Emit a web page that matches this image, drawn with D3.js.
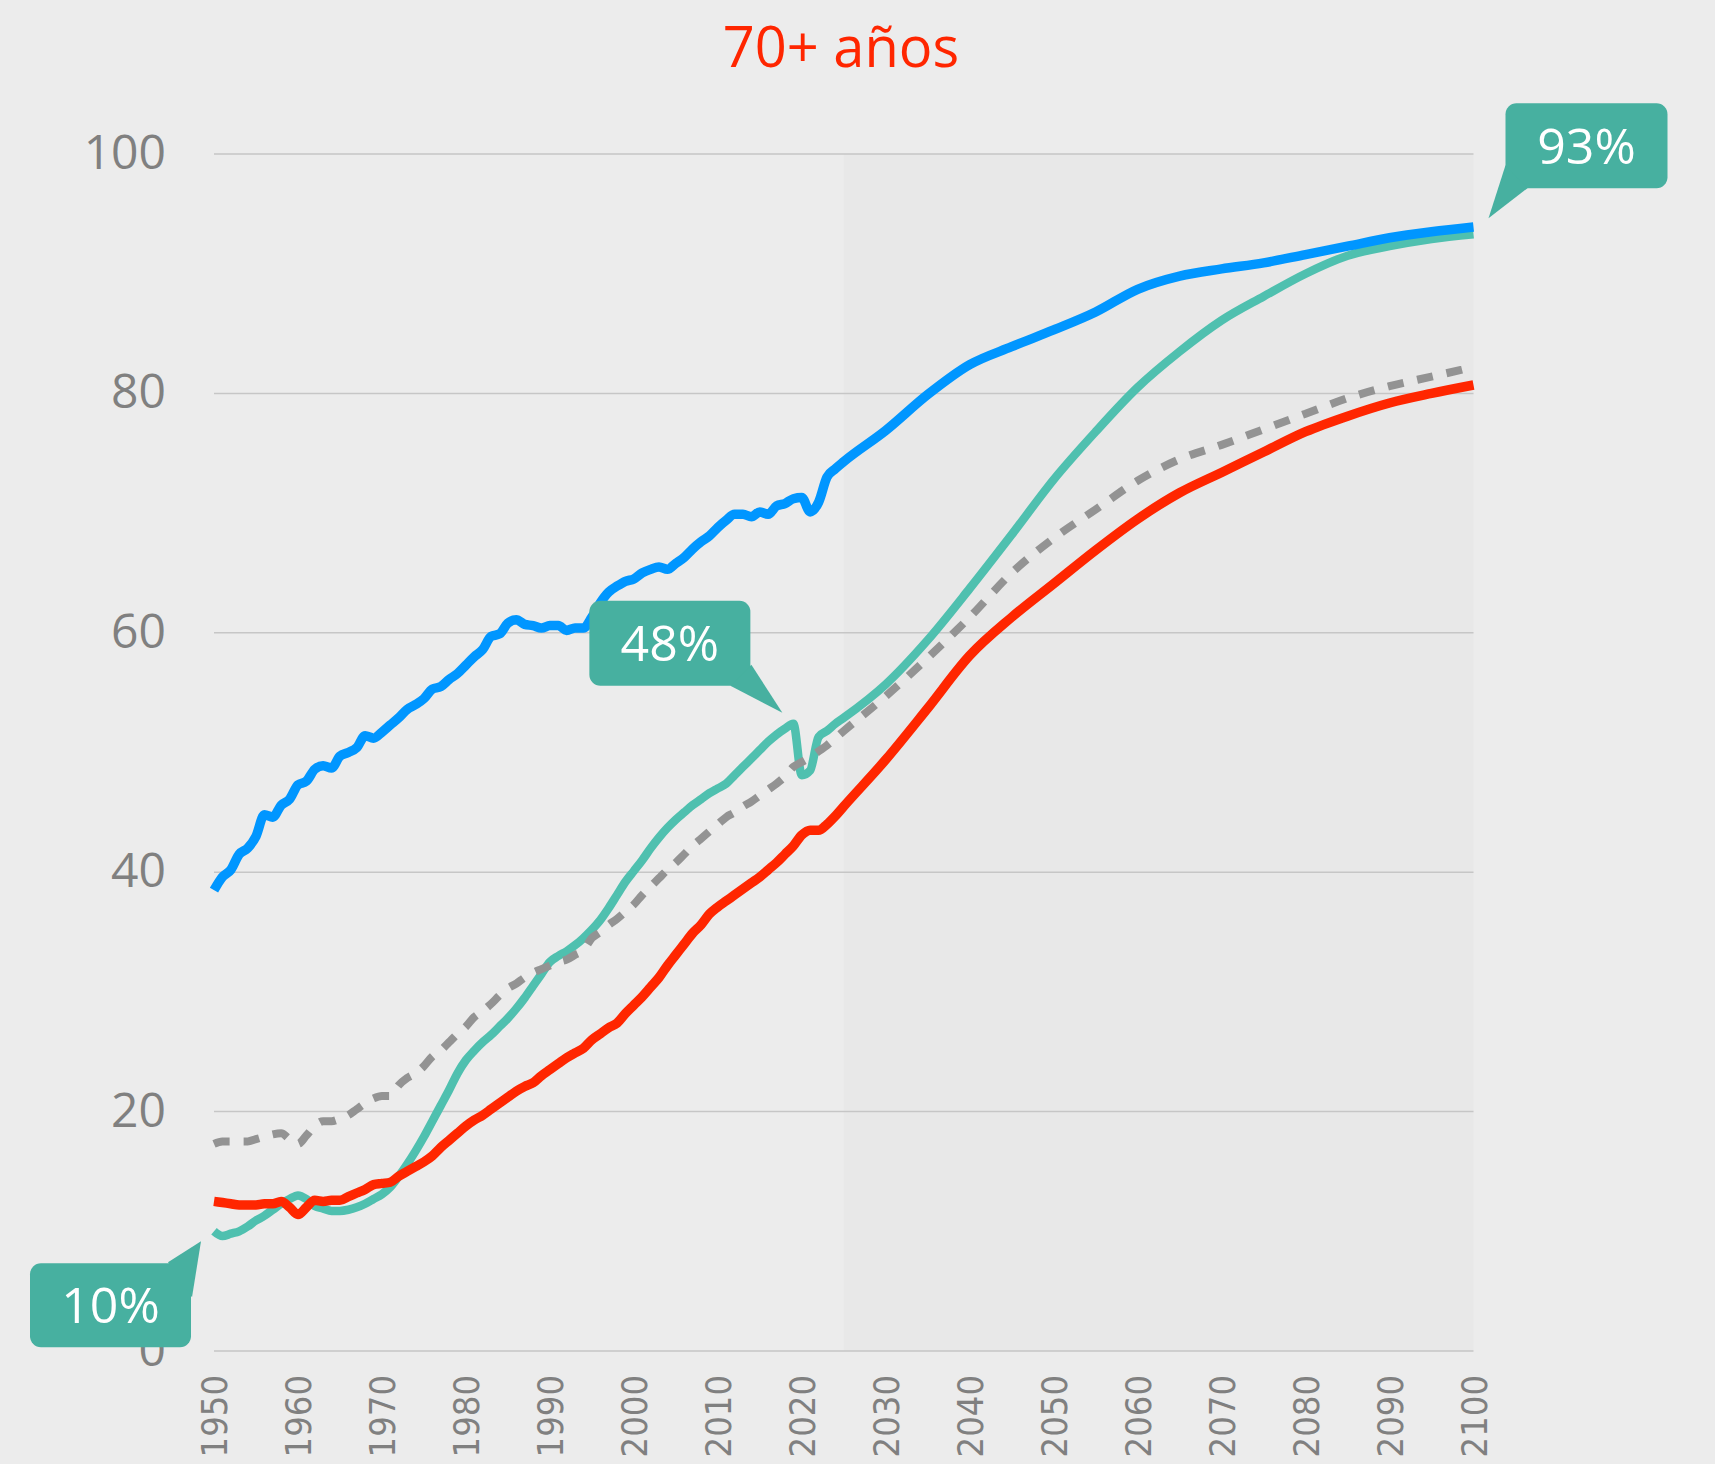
<!DOCTYPE html>
<html>
<head>
<meta charset="utf-8">
<script src="https://cdn.jsdelivr.net/npm/d3@7"></script>
<style>
    body { margin: 0; background: #ececec; }
    #chart { width: 1715px; height: 1464px; }
    .tick-y text { font-family: "Open Sans", sans-serif; font-size: 48px; fill: #808080; }
    .tick-x text { font-family: "DejaVu Sans Condensed", "DejaVu Sans", sans-serif; font-size: 36px; fill: #808080; }
</style>
</head>
<body>
<div id="chart"></div>
<script>
// years: annual until 2025, then every 5 years
let years = [1950,1951,1952,1953,1954,1955,1956,1957,1958,1959,
    1960,1961,1962,1963,1964,1965,1966,1967,1968,1969,
    1970,1971,1972,1973,1974,1975,1976,1977,1978,1979,
    1980,1981,1982,1983,1984,1985,1986,1987,1988,1989,
    1990,1991,1992,1993,1994,1995,1996,1997,1998,1999,
    2000,2001,2002,2003,2004,2005,2006,2007,2008,2009,
    2010,2011,2012,2013,2014,2015,2016,2017,2018,2019,
    2020,2021,2022,2023,2024,2025,
    2030,2035,2040,2045,2050,2055,2060,2065,2070,2075,2080,2085,2090,2095,2100];

let blueValues = [38.5,39.6,40.2,41.5,42.0,43.0,44.8,44.6,45.6,46.1,
    47.3,47.6,48.6,48.9,48.7,49.7,50.0,50.4,51.4,51.2,
    51.7,52.3,52.9,53.6,54.0,54.5,55.3,55.5,56.1,56.6,
    57.3,58.0,58.6,59.7,59.9,60.8,61.1,60.7,60.6,60.4,
    60.6,60.6,60.2,60.4,60.4,61.3,62.5,63.4,63.9,64.3,
    64.5,65.0,65.3,65.5,65.3,65.8,66.3,67.0,67.6,68.1,
    68.8,69.4,69.9,69.9,69.7,70.1,69.9,70.6,70.8,71.2,
    71.3,70.1,70.9,73.0,73.7,74.3,
    76.9,79.9,82.4,83.9,85.3,86.8,88.7,89.8,90.4,90.9,91.6,92.3,93.0,93.5,93.9];

let tealValues = [10.0,9.6,9.8,10.0,10.4,10.9,11.3,11.8,12.3,12.7,
    13.0,12.7,12.1,11.9,11.7,11.7,11.8,12.0,12.3,12.7,
    13.1,13.7,14.6,15.6,16.7,17.9,19.2,20.5,21.8,23.2,
    24.3,25.1,25.8,26.4,27.1,27.8,28.6,29.5,30.5,31.5,
    32.5,33.0,33.4,33.9,34.5,35.2,36.0,37.0,38.1,39.2,
    40.1,41.0,42.0,42.9,43.7,44.4,45.0,45.6,46.1,46.6,
    47.0,47.4,48.1,48.8,49.5,50.2,50.9,51.5,52.0,52.4,
    48.1,48.5,51.3,51.8,52.4,52.9,
    55.7,59.4,63.7,68.2,72.8,76.8,80.5,83.5,86.1,88.1,90.0,91.5,92.3,92.9,93.3];

let redValues = [12.5,12.4,12.3,12.2,12.2,12.2,12.3,12.3,12.5,12.0,
    11.4,12.0,12.6,12.5,12.6,12.6,12.9,13.2,13.5,13.9,
    14.0,14.1,14.6,15.0,15.4,15.8,16.3,17.0,17.6,18.2,
    18.8,19.3,19.7,20.2,20.7,21.2,21.7,22.1,22.4,23.0,
    23.5,24.0,24.5,24.9,25.3,26.0,26.5,27.0,27.4,28.2,
    28.9,29.6,30.4,31.2,32.2,33.1,34.0,34.9,35.6,36.5,
    37.1,37.6,38.1,38.6,39.1,39.6,40.2,40.8,41.5,42.2,
    43.1,43.5,43.5,44.0,44.7,45.5,
    49.4,53.7,58.1,61.3,64.1,66.9,69.5,71.7,73.4,75.1,76.8,78.1,79.2,80.0,80.7];

let grayValues = [17.3,17.5,17.5,17.5,17.5,17.7,17.9,18.1,18.2,17.7,
    17.3,18.0,18.8,19.2,19.2,19.4,19.7,20.2,20.7,21.1,
    21.3,21.3,22.2,22.8,23.2,23.8,24.6,25.1,25.8,26.5,
    27.1,27.9,28.4,29.0,29.7,30.3,30.7,31.2,31.6,31.9,
    32.2,32.5,32.7,33.1,33.5,34.5,35.0,35.6,36.1,36.7,
    37.3,38.1,38.8,39.5,40.2,40.8,41.5,42.2,42.8,43.4,
    44.0,44.6,45.0,45.5,45.9,46.4,46.9,47.4,48.0,48.8,
    49.2,49.6,50.1,50.6,51.2,51.8,
    54.7,57.9,61.3,65.0,67.9,70.3,72.7,74.5,75.7,77.0,78.3,79.6,80.6,81.4,82.2];

let yTicks = [0, 20, 40, 60, 80, 100];
let xTicks = [1950,1960,1970,1980,1990,2000,2010,2020,2030,2040,2050,2060,2070,2080,2090,2100];

let projectionStart = 2025;

// callouts: label, year / value they point at
let calloutLabels = ["10%", "48%", "93%"];
let calloutYears = [1950, 2019, 2100];
let calloutValues = [10.0, 52.4, 93.3];

class LineChart {
    constructor(parentElement) {
        this.parentElement = parentElement;
        this.initVis();
    }

    initVis() {
        let vis = this;

        vis.width = 1715;
        vis.height = 1464;

        vis.svg = d3.select("#" + vis.parentElement).append("svg")
            .attr("width", vis.width)
            .attr("height", vis.height);

        vis.svg.append("rect")
            .attr("width", vis.width)
            .attr("height", vis.height)
            .attr("fill", "#ececec");

        vis.x = d3.scaleLinear().domain([1950, 2100]).range([214, 1473.5]);
        vis.y = d3.scaleLinear().domain([0, 100]).range([1351, 154]);

        vis.wrangleData();
    }

    wrangleData() {
        let vis = this;

        vis.series = [
            {name: "teal", values: tealValues, color: "#4fc0af", width: 8.5, dash: null},
            {name: "red", values: redValues, color: "#ff2600", width: 9.5, dash: null},
            {name: "gray", values: grayValues, color: "#939393", width: 8, dash: "16,14"},
            {name: "blue", values: blueValues, color: "#0096ff", width: 9.5, dash: null}
        ];
        vis.series.forEach(s => {
            s.points = years.map((yr, i) => ({year: yr, value: s.values[i]}));
        });

        vis.updateVis();
    }

    updateVis() {
        let vis = this;

        // shaded projection area
        vis.svg.append("rect")
            .attr("x", vis.x(projectionStart))
            .attr("y", vis.y(100))
            .attr("width", vis.x(2100) - vis.x(projectionStart))
            .attr("height", vis.y(0) - vis.y(100))
            .attr("fill", "#e8e8e8");

        // gridlines
        vis.svg.selectAll(".grid")
            .data(yTicks)
            .enter()
            .append("line")
            .attr("class", "grid")
            .attr("x1", vis.x(1950))
            .attr("x2", vis.x(2100))
            .attr("y1", d => vis.y(d))
            .attr("y2", d => vis.y(d))
            .attr("stroke", "#c6c6c6")
            .attr("stroke-width", 1.5);

        // y axis
        vis.svg.append("g")
            .attr("class", "tick-y")
            .attr("transform", `translate(${vis.x(1950) - 48}, 0)`)
            .call(d3.axisLeft(vis.y).tickValues(yTicks).tickSize(0).tickPadding(0))
            .call(g => g.select(".domain").remove())
            .selectAll("text")
            .attr("dy", "0.3em");

        // x axis
        vis.svg.append("g")
            .attr("class", "tick-x")
            .attr("transform", `translate(0, ${vis.y(0)})`)
            .call(d3.axisBottom(vis.x).tickValues(xTicks).tickFormat(d3.format("d")).tickSize(0))
            .call(g => g.select(".domain").remove())
            .selectAll("text")
            .attr("text-anchor", "end")
            .attr("transform", "translate(0,24) rotate(-90)")
            .attr("x", 0)
            .attr("y", 0)
            .attr("dy", "0.36em");

        vis.line = d3.line()
            .x(d => vis.x(d.year))
            .y(d => vis.y(d.value))
            .curve(d3.curveMonotoneX);

        vis.svg.selectAll(".series")
            .data(vis.series)
            .enter()
            .append("path")
            .attr("class", "series")
            .attr("d", d => vis.line(d.points))
            .attr("fill", "none")
            .attr("stroke", d => d.color)
            .attr("stroke-width", d => d.width)
            .attr("stroke-dasharray", d => d.dash);

        // title
        vis.svg.append("text")
            .attr("x", 841)
            .attr("y", 67)
            .attr("text-anchor", "middle")
            .attr("font-family", "Open Sans, sans-serif")
            .attr("font-size", 56)
            .attr("fill", "#ff2600")
            .text("70+ años");

        vis.drawCallouts();
    }

    drawCallouts() {
        let vis = this;

        // box geometry relative to the point each callout points at
        let boxes = [
            {dx: -184, dy: 32, w: 161, h: 84, tip: [-13, 10], base: [[-46, 31], [-22, 66]]},
            {dx: -204, dy: -123, w: 161, h: 85, tip: [-11, -11], base: [[-63, -38], [-42, -59]]},
            {dx: 32, dy: -131, w: 162, h: 85, tip: [15, -16], base: [[32, -69], [54, -46]]}
        ];

        calloutLabels.forEach((label, i) => {
            let px = vis.x(calloutYears[i]);
            let py = vis.y(calloutValues[i]);
            let b = boxes[i];
            let g = vis.svg.append("g").attr("class", "callout");

            g.append("rect")
                .attr("x", px + b.dx)
                .attr("y", py + b.dy)
                .attr("width", b.w)
                .attr("height", b.h)
                .attr("rx", 11)
                .attr("fill", "#47b0a0");

            g.append("path")
                .attr("d", d3.line()([
                    [px + b.base[0][0], py + b.base[0][1]],
                    [px + b.tip[0], py + b.tip[1]],
                    [px + b.base[1][0], py + b.base[1][1]]
                ]) + "Z")
                .attr("fill", "#47b0a0");

            g.append("text")
                .attr("x", px + b.dx + b.w / 2)
                .attr("y", py + b.dy + b.h / 2 + 18)
                .attr("text-anchor", "middle")
                .attr("font-family", "Open Sans, sans-serif")
                .attr("font-size", 50)
                .attr("fill", "#ffffff")
                .text(label);
        });
    }
}

new LineChart("chart");
</script>
</body>
</html>
